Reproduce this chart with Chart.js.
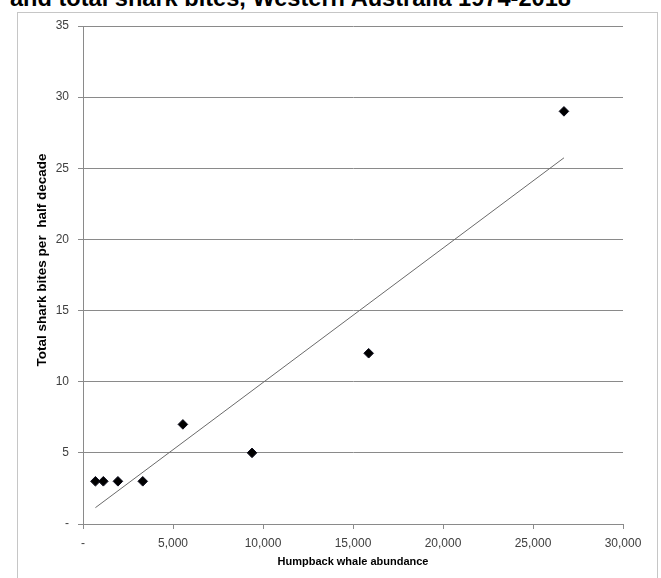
<!DOCTYPE html>
<html><head><meta charset="utf-8">
<script src="https://cdn.jsdelivr.net/npm/chart.js@4"></script>
<style>
html,body{margin:0;padding:0;background:#fff;overflow:hidden;width:661px;height:578px;}
#frame{position:absolute;left:17px;top:12px;width:639px;height:620px;border:1px solid #c6c6c6;}
#title{position:absolute;left:10px;top:-12px;font-weight:bold;font-family:"Liberation Sans";font-size:20px;white-space:nowrap;line-height:20px;color:#000}
#wrap{position:absolute;left:0;top:0;width:661px;height:578px}
</style></head><body>
<div id="frame"></div>
<div id="title">and total shark bites, Western Australia 1974-2018</div>
<div id="wrap"><canvas id="c" width="661" height="578"></canvas></div>
<script>
// Data
const whaleAbundance = [690, 1130, 1940, 3320, 5550, 9390, 15870, 26720];
const sharkBites     = [3, 3, 3, 3, 7, 5, 12, 29];
const xTicks = [0, 5000, 10000, 15000, 20000, 25000, 30000];
const yTicks = [0, 5, 10, 15, 20, 25, 30, 35];
const titleText = "and total shark bites, Western Australia 1974-2018";
const xTitle = "Humpback whale abundance";
const yTitle = "Total shark bites per  half decade";

// fit title width
(function(){
  const t = document.getElementById('title');
  t.textContent = titleText;
  const cx = document.createElement('canvas').getContext('2d');
  cx.font = 'bold 20px "Liberation Sans"';
  const w = cx.measureText(titleText).width;
  t.style.fontSize = (20 * 562 / w).toFixed(2) + 'px';
})();

// linear trendline (least squares) from the data
const n = whaleAbundance.length;
const mx = whaleAbundance.reduce((a,b)=>a+b,0)/n;
const my = sharkBites.reduce((a,b)=>a+b,0)/n;
let sxy = 0, sxx = 0;
for (let i=0;i<n;i++){ sxy += (whaleAbundance[i]-mx)*(sharkBites[i]-my); sxx += (whaleAbundance[i]-mx)**2; }
const slope = sxy/sxx, icpt = my - slope*mx;
const xMin = Math.min(...whaleAbundance), xMax = Math.max(...whaleAbundance);
const trend = [{x:xMin, y:icpt+slope*xMin}, {x:xMax, y:icpt+slope*xMax}];

const points = whaleAbundance.map((x,i)=>({x, y: sharkBites[i]}));
const fmt = v => v === 0 ? '-' : Number(v).toLocaleString('en-US');
const gridCol = '#8a8a8a';
const tickFont = {family:'Liberation Sans', size:12};

// y-axis title drawn beside the axis (centred like the reference)
const yTitlePlugin = {
  id:'yTitle',
  afterDraw(chart){
    const ctx = chart.ctx;
    ctx.save();
    ctx.translate(42, 260);
    ctx.rotate(-Math.PI/2);
    ctx.font = 'bold 13.5px "Liberation Sans"';
    ctx.fillStyle = '#000';
    ctx.textAlign = 'center';
    ctx.textBaseline = 'middle';
    ctx.fillText(yTitle, 0, 0);
    ctx.restore();
  }
};

new Chart(document.getElementById('c'), {
  type: 'scatter',
  data: {
    datasets: [
      { label:'Trend', type:'line', data: trend, borderColor:'#6a6a6a', borderWidth:1, pointRadius:0, fill:false, order:2 },
      { label:'Shark bites', data: points, pointStyle:'rectRot', pointRadius:4.8, backgroundColor:'#000', borderColor:'#0a0a1a', borderWidth:1, order:1 }
    ]
  },
  plugins:[yTitlePlugin],
  options: {
    responsive:false, animation:false,
    layout:{padding:{top:26, right:38, left:0, bottom:0}},
    plugins:{legend:{display:false}, tooltip:{enabled:false}},
    scales:{
      x:{ type:'linear', min:0, max:30000,
        afterBuildTicks: s => { s.ticks = xTicks.map(v=>({value:v})); },
        afterFit: s => { s.height = 54; },
        ticks:{ callback: fmt, font: tickFont, color:'#404040', padding:7, maxRotation:0 },
        grid:{ drawOnChartArea:false, drawTicks:true, tickLength:5, color:gridCol },
        border:{ color:gridCol },
        title:{ display:true, text:xTitle, font:{family:'Liberation Sans', size:11, weight:'bold'}, color:'#000', padding:{top:0, bottom:9} }
      },
      y:{ min:0, max:35,
        afterBuildTicks: s => { s.ticks = yTicks.map(v=>({value:v})); },
        afterFit: s => { s.width = 83; },
        ticks:{ callback: fmt, font: tickFont, color:'#404040', padding:9 },
        grid:{ color:gridCol, tickLength:5 },
        border:{ color:gridCol },
        title:{ display:false }
      }
    }
  }
});
</script>
</body></html>
